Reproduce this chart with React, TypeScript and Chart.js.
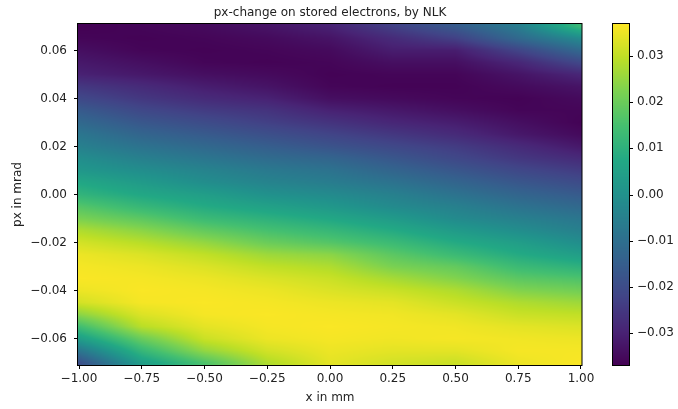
import React, { useEffect, useRef } from "react";
import { Chart, registerables } from "chart.js";

Chart.register(...registerables);

// ---- data ----
const chartTitle = "px-change on stored electrons, by NLK";
const xTitle = "x in mm";
const yTitle = "px in mrad";

// grid coordinates
const xGrid = [-1, -0.75, -0.5, -0.25, 0, 0.25, 0.5, 0.75, 1];
const pxGrid = [
  0.07, 0.065, 0.06, 0.055, 0.05, 0.045, 0.04, 0.035, 0.03, 0.025, 0.02, 0.015, 0.01, 0.005, 0,
  -0.005, -0.01, -0.015, -0.02, -0.025, -0.03, -0.035, -0.04, -0.045, -0.05, -0.055, -0.06, -0.065, -0.07,
];

// px-change values, one column per x value (top px = 0.07 to bottom px = -0.07)
const zXm100 = [-0.037, -0.036, -0.034, -0.032, -0.03, -0.025, -0.021, -0.016, -0.012, -0.008, -0.005, -0.001, 0.002, 0.007, 0.011, 0.017, 0.022, 0.028, 0.032, 0.035, 0.036, 0.0365, 0.035, 0.032, 0.024, 0.014, 0.004, -0.008, -0.019];
const zXm075 = [-0.036, -0.0365, -0.036, -0.034, -0.032, -0.028, -0.025, -0.021, -0.017, -0.013, -0.009, -0.005, -0.001, 0.003, 0.007, 0.012, 0.018, 0.024, 0.029, 0.033, 0.035, 0.036, 0.0365, 0.036, 0.033, 0.029, 0.02, 0.012, 0.004];
const zXm050 = [-0.035, -0.036, -0.0365, -0.036, -0.034, -0.031, -0.028, -0.024, -0.02, -0.016, -0.012, -0.008, -0.004, -0.001, 0.004, 0.008, 0.013, 0.019, 0.025, 0.03, 0.033, 0.035, 0.036, 0.0365, 0.036, 0.034, 0.031, 0.025, 0.016];
const zXm025 = [-0.033, -0.035, -0.036, -0.0365, -0.035, -0.033, -0.03, -0.026, -0.023, -0.019, -0.015, -0.011, -0.007, -0.004, 0.0, 0.005, 0.01, 0.015, 0.02, 0.026, 0.03, 0.033, 0.035, 0.036, 0.0365, 0.036, 0.035, 0.032, 0.028];
const zX000 = [-0.03, -0.033, -0.035, -0.036, -0.0365, -0.036, -0.034, -0.03, -0.026, -0.022, -0.018, -0.013, -0.009, -0.006, -0.002, 0.002, 0.007, 0.012, 0.017, 0.024, 0.028, 0.031, 0.033, 0.035, 0.036, 0.0365, 0.036, 0.035, 0.034];
const zXp025 = [-0.023, -0.028, -0.031, -0.034, -0.036, -0.0365, -0.035, -0.032, -0.029, -0.025, -0.021, -0.017, -0.013, -0.009, -0.005, -0.002, 0.003, 0.008, 0.013, 0.018, 0.022, 0.027, 0.031, 0.034, 0.0355, 0.036, 0.0355, 0.034, 0.032];
const zXp050 = [-0.016, -0.023, -0.031, -0.034, -0.036, -0.0365, -0.036, -0.034, -0.031, -0.028, -0.024, -0.021, -0.017, -0.013, -0.009, -0.005, -0.002, 0.003, 0.008, 0.013, 0.019, 0.023, 0.028, 0.031, 0.034, 0.0355, 0.036, 0.034, 0.031];
const zXp075 = [-0.006, -0.012, -0.022, -0.029, -0.033, -0.035, -0.0365, -0.036, -0.034, -0.032, -0.028, -0.025, -0.021, -0.017, -0.013, -0.009, -0.005, -0.001, 0.004, 0.008, 0.013, 0.018, 0.023, 0.028, 0.031, 0.034, 0.0355, 0.036, 0.035];
const zXp100 = [0.013, -0.002, -0.012, -0.021, -0.029, -0.033, -0.035, -0.036, -0.0365, -0.035, -0.032, -0.028, -0.024, -0.02, -0.016, -0.012, -0.008, -0.005, -0.001, 0.004, 0.01, 0.016, 0.021, 0.026, 0.03, 0.033, 0.035, 0.036, 0.0365];

const zColumns = [zXm100, zXm075, zXm050, zXm025, zX000, zXp025, zXp050, zXp075, zXp100];

// axes
const xRange = [-1.004, 1.004];
const yRange = [-0.071, 0.071];
const cbRange = [-0.0369, 0.0369];
const xTicks = [-1, -0.75, -0.5, -0.25, 0, 0.25, 0.5, 0.75, 1];
const yTicks = [-0.06, -0.04, -0.02, 0, 0.02, 0.04, 0.06];
const cbTicks = [-0.03, -0.02, -0.01, 0, 0.01, 0.02, 0.03];

// ---- styling ----
const FONT = "'DejaVu Sans', sans-serif";
const TEXT = "#222";
const VIRIDIS = [
  [68, 1, 84], [72, 36, 117], [65, 68, 135], [53, 95, 141], [42, 120, 142],
  [33, 145, 140], [34, 168, 132], [68, 191, 112], [122, 209, 81], [189, 223, 38], [253, 231, 37],
];

function viridis(t: number): number[] {
  const c = Math.min(1, Math.max(0, t)) * (VIRIDIS.length - 1);
  const i = Math.min(VIRIDIS.length - 2, Math.floor(c));
  const f = c - i;
  const a = VIRIDIS[i], b = VIRIDIS[i + 1];
  return [a[0] + (b[0] - a[0]) * f, a[1] + (b[1] - a[1]) * f, a[2] + (b[2] - a[2]) * f];
}

function sampleZ(xv: number, yv: number): number {
  const nx = xGrid.length, ny = pxGrid.length;
  const cx = Math.min(Math.max(xv, xGrid[0]), xGrid[nx - 1]);
  let i = 0;
  while (i < nx - 2 && cx > xGrid[i + 1]) i++;
  const tx = (cx - xGrid[i]) / (xGrid[i + 1] - xGrid[i]);
  const cy = Math.min(Math.max(yv, pxGrid[ny - 1]), pxGrid[0]);
  let j = 0;
  while (j < ny - 2 && cy < pxGrid[j + 1]) j++;
  const ty = (pxGrid[j] - cy) / (pxGrid[j] - pxGrid[j + 1]);
  const a = zColumns[i][j], b = zColumns[i + 1][j], c = zColumns[i][j + 1], d = zColumns[i + 1][j + 1];
  return a * (1 - tx) * (1 - ty) + b * tx * (1 - ty) + c * (1 - tx) * ty + d * tx * ty;
}

function fmt(v: number, digits: number): string {
  const s = Math.abs(v).toFixed(digits);
  return v < -1e-12 ? "\u2212" + s : s;
}

const heatmapPlugin = {
  id: "heatmap",
  beforeDatasetsDraw(chart: any) {
    const { ctx, chartArea: ca, scales } = chart;
    const xs = scales.x, ys = scales.y;
    const w = Math.round(ca.right - ca.left), h = Math.round(ca.bottom - ca.top);
    const off = document.createElement("canvas");
    off.width = w;
    off.height = h;
    const octx = off.getContext("2d")!;
    const img = octx.createImageData(w, h);
    const span = cbRange[1] - cbRange[0];
    for (let j = 0; j < h; j++) {
      const yv = ys.getValueForPixel(ca.top + j + 0.5);
      for (let i = 0; i < w; i++) {
        const xv = xs.getValueForPixel(ca.left + i + 0.5);
        const z = sampleZ(xv, yv);
        const c = viridis((z - cbRange[0]) / span);
        const k = (j * w + i) * 4;
        img.data[k] = c[0];
        img.data[k + 1] = c[1];
        img.data[k + 2] = c[2];
        img.data[k + 3] = 255;
      }
    }
    octx.putImageData(img, 0, 0);
    ctx.save();
    ctx.drawImage(off, ca.left, ca.top, w, h);
    ctx.restore();
  },
  afterDraw(chart: any) {
    const { ctx, chartArea: ca, scales } = chart;
    const cb = scales.cb;
    const span = cbRange[1] - cbRange[0];
    ctx.save();
    // plot frame
    ctx.strokeStyle = "#000";
    ctx.lineWidth = 1;
    ctx.strokeRect(ca.left - 0.5, ca.top - 0.5, ca.right - ca.left + 0.5, ca.bottom - ca.top + 1);

    // colorbar
    const cbLeft = cb.left + 31;
    const cbW = 16;
    const top = Math.round(cb.getPixelForValue(cbRange[1]));
    const bottom = Math.round(cb.getPixelForValue(cbRange[0]));
    for (let y = top; y < bottom; y++) {
      const v = cb.getValueForPixel(y + 0.5);
      const c = viridis((v - cbRange[0]) / span);
      ctx.fillStyle = `rgb(${c[0]},${c[1]},${c[2]})`;
      ctx.fillRect(cbLeft, y, cbW, 1);
    }
    ctx.strokeRect(cbLeft - 0.5, top - 0.5, cbW + 1, bottom - top + 1);
    ctx.beginPath();
    for (const t of cbTicks) {
      const y = Math.round(cb.getPixelForValue(t)) + 0.5;
      ctx.moveTo(cbLeft + cbW + 0.5, y);
      ctx.lineTo(cbLeft + cbW + 4, y);
    }
    ctx.stroke();

    // titles
    ctx.fillStyle = TEXT;
    ctx.textAlign = "center";
    ctx.textBaseline = "alphabetic";
    const cx = (ca.left + ca.right) / 2;
    ctx.font = `12px ${FONT}`;
    ctx.fillText(chartTitle, cx, 16);
    ctx.fillText(xTitle, cx, 401);
    ctx.translate(21, (ca.top + ca.bottom) / 2);
    ctx.rotate(-Math.PI / 2);
    ctx.fillText(yTitle, 0, 0);
    ctx.restore();
  },
};

function fixSize(dim: "width" | "height", size: number) {
  return (s: any) => {
    s[dim] = size;
    s.paddingTop = 0;
    s.paddingBottom = 0;
    s.paddingLeft = 0;
    s.paddingRight = 0;
  };
}

export default function App() {
  const ref = useRef<HTMLCanvasElement | null>(null);
  useEffect(() => {
    if (!ref.current) return;
    const tickFont = { family: FONT, size: 12 };
    const chart = new Chart(ref.current, {
      type: "scatter",
      data: { datasets: [{ data: [], pointRadius: 0 }] },
      options: {
        animation: false,
        responsive: false,
        events: [],
        layout: { padding: { top: 24, left: 0, right: 0, bottom: 0 } },
        plugins: { legend: { display: false }, title: { display: false }, tooltip: { enabled: false } },
        scales: {
          x: {
            type: "linear",
            position: "bottom",
            min: xRange[0],
            max: xRange[1],
            afterBuildTicks: (s: any) => { s.ticks = xTicks.map((v) => ({ value: v })); },
            afterFit: fixSize("height", 44),
            ticks: { font: tickFont, color: TEXT, padding: 3, maxRotation: 0, autoSkip: false, callback: (v: any) => fmt(Number(v), 2) },
            grid: { display: true, drawOnChartArea: false, drawTicks: true, tickLength: 4, color: "#000", tickWidth: 1 },
            border: { display: false },
          },
          y: {
            type: "linear",
            position: "left",
            min: yRange[0],
            max: yRange[1],
            afterBuildTicks: (s: any) => { s.ticks = yTicks.map((v) => ({ value: v })); },
            afterFit: fixSize("width", 78),
            ticks: { font: tickFont, color: TEXT, padding: 7, autoSkip: false, callback: (v: any) => fmt(Number(v), 2) },
            grid: { display: true, drawOnChartArea: false, drawTicks: true, tickLength: 4, color: "#000", tickWidth: 1 },
            border: { display: false },
          },
          cb: {
            type: "linear",
            position: "right",
            min: cbRange[0],
            max: cbRange[1],
            afterBuildTicks: (s: any) => { s.ticks = cbTicks.map((v) => ({ value: v })); },
            afterFit: fixSize("width", 96),
            ticks: { font: tickFont, color: TEXT, padding: 47, autoSkip: false, callback: (v: any) => fmt(Number(v), 2) },
            grid: { display: false },
            border: { display: false },
          },
        },
      },
      plugins: [heatmapPlugin],
    } as any);
    return () => chart.destroy();
  }, []);
  return (
    <div style={{ position: "absolute", left: 0, top: 0, width: 678, height: 409, background: "#fff" }}>
      <canvas ref={ref} width={678} height={409} style={{ display: "block" }} />
    </div>
  );
}
